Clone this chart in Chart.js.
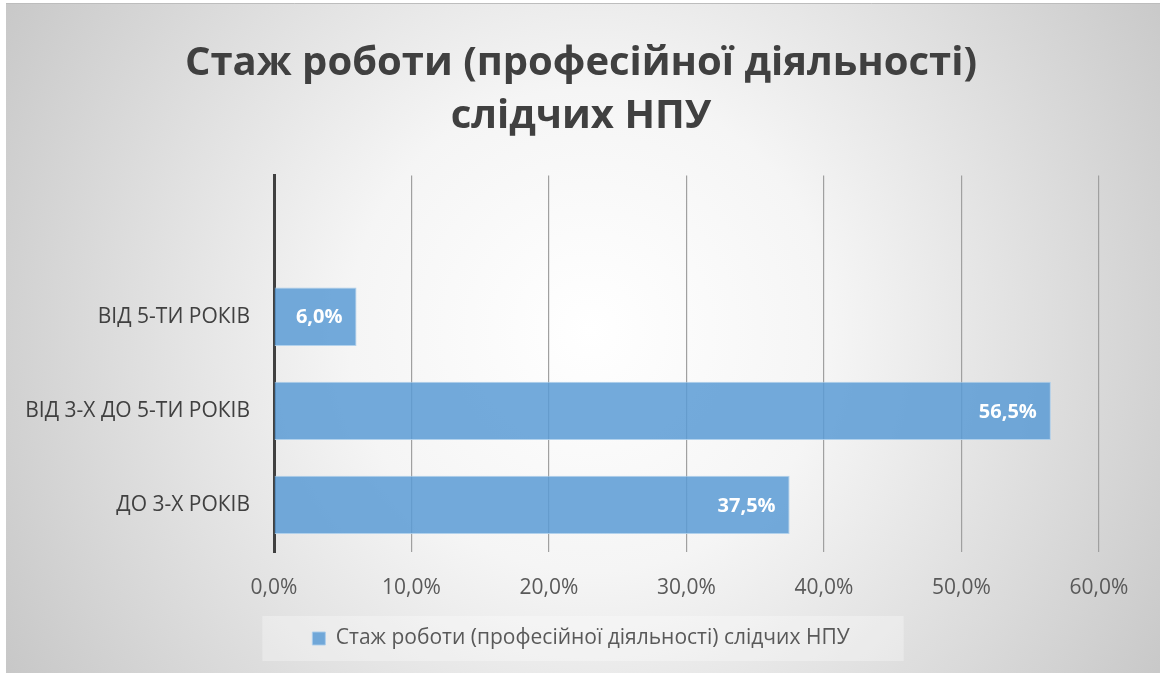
<!DOCTYPE html>
<html>
<head>
<meta charset="utf-8">
<script src="https://cdn.jsdelivr.net/npm/chart.js@4/dist/chart.umd.min.js"></script>
<style>
  html, body { margin: 0; padding: 0; background: #fff; }
  #wrap { width: 1162px; height: 673px; }
</style>
</head>
<body>
<div id="wrap"><canvas id="stazhChart" width="1162" height="673"></canvas></div>
<script>
// Data
const categories = ['', 'ВІД 5-ТИ РОКІВ', 'ВІД 3-Х ДО 5-ТИ РОКІВ', 'ДО 3-Х РОКІВ'];
const shares = [null, 6.0, 56.5, 37.5];
const seriesName = 'Стаж роботи (професійної діяльності) слідчих НПУ';
const titleLines = ['Стаж роботи (професійної діяльності)', 'слідчих НПУ'];
const xTicks = { min: 0, max: 60, step: 10 };

const FONT = "'Open Sans', 'Noto Sans', sans-serif";
const fmt = v => v.toFixed(1).replace('.', ',') + '%';

// radial grey background like the Office preset
const backdrop = {
    id: 'backdrop',
    beforeDraw(chart) {
        const c = chart.ctx;
        const x0 = 6, y0 = 3, w = chart.width - 8, h = chart.height - 3;
        const g = c.createRadialGradient(590, 330, 0, 590, 330, 690);
        g.addColorStop(0, '#ffffff');
        g.addColorStop(0.35, '#f5f5f5');
        g.addColorStop(1, '#c6c6c6');
        c.save();
        c.fillStyle = g;
        c.fillRect(x0, y0, w, h);
        c.strokeStyle = '#bdbdbd';
        c.lineWidth = 1;
        c.beginPath();
        c.moveTo(x0, y0 + 0.5);
        c.lineTo(x0 + w, y0 + 0.5);
        c.stroke();

        // soft box behind the legend
        const lg = chart.legend;
        if (lg && lg.legendHitBoxes && lg.legendHitBoxes.length) {
            const hb = lg.legendHitBoxes[0];
            c.fillStyle = 'rgba(255,255,255,0.3)';
            c.fillRect(hb.left - 50, hb.top - 12, hb.width + 104, hb.height + 24);
        }
        c.restore();
    }
};

// value labels inside the bar end
const barLabels = {
    id: 'barLabels',
    afterDatasetsDraw(chart) {
        const c = chart.ctx;
        const meta = chart.getDatasetMeta(0);
        c.save();
        c.font = "bold 20px " + FONT;
        c.fillStyle = '#ffffff';
        c.textAlign = 'right';
        c.textBaseline = 'middle';
        meta.data.forEach((bar, i) => {
            const v = shares[i];
            if (v == null) return;
            c.fillText(fmt(v), bar.x - 14, bar.y + 1);
        });
        c.restore();
    }
};

const ctx = document.getElementById('stazhChart').getContext('2d');
new Chart(ctx, {
    type: 'bar',
    data: {
        labels: categories,
        datasets: [{
            label: seriesName,
            data: shares,
            backgroundColor: 'rgba(91,155,213,0.85)',
            borderColor: 'rgba(170,205,235,0.9)',
            borderWidth: 1,
            categoryPercentage: 1,
            barPercentage: 0.62
        }]
    },
    options: {
        indexAxis: 'y',
        responsive: false,
        animation: false,
        layout: { padding: { left: 0, right: 0, top: 4, bottom: 14 } },
        plugins: {
            title: {
                display: true,
                text: titleLines,
                color: '#404040',
                font: { family: FONT, size: 40, weight: 'bold', lineHeight: 1.32 },
                padding: { top: 33, bottom: 33 }
            },
            legend: {
                position: 'bottom',
                labels: {
                    color: '#595959',
                    font: { family: FONT, size: 21 },
                    boxWidth: 13,
                    boxHeight: 13,
                    padding: 11
                }
            },
            tooltip: { enabled: false }
        },
        scales: {
            x: {
                min: xTicks.min,
                max: xTicks.max,
                ticks: {
                    stepSize: xTicks.step,
                    color: '#595959',
                    font: { family: FONT, size: 21 },
                    padding: 23,
                    callback: v => fmt(v)
                },
                grid: { color: '#a0a0a0', lineWidth: 1.2, drawTicks: false },
                border: { display: false },
                afterFit(scale) { scale.height = 65; }
            },
            y: {
                ticks: {
                    color: '#404040',
                    font: { family: FONT, size: 21 },
                    padding: 24
                },
                grid: { display: false, drawTicks: false },
                border: { display: true, color: '#404040', width: 3 },
                afterFit(scale) { scale.width = 274; }
            },
            // empty right-hand axis, only reserves the margin
            yRight: {
                position: 'right',
                display: true,
                ticks: { display: false },
                grid: { display: false, drawTicks: false },
                border: { display: false },
                afterFit(scale) { scale.width = 63; }
            }
        }
    },
    plugins: [backdrop, barLabels]
});
</script>
</body>
</html>
